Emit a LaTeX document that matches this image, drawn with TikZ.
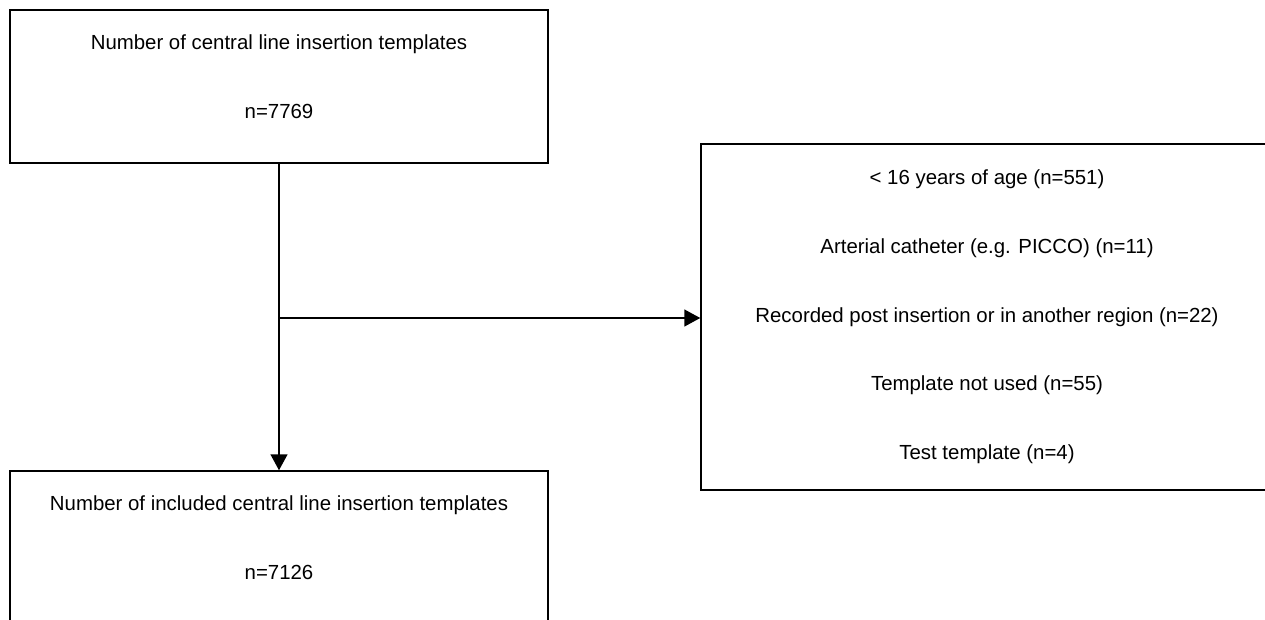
\documentclass[tikz,border=0pt]{standalone}
\usepackage{fontspec}
\setmainfont{Liberation Sans}
\usetikzlibrary{arrows.meta}
\tikzset{
  box/.style={draw, line width=1.5pt, inner sep=0pt},
  lbl/.style={anchor=base, font=\fontsize{20.4}{24}\selectfont},
  arr/.style={line width=1.5pt, -{Triangle[length=16pt,width=17pt]}}
}
\begin{document}
\begin{tikzpicture}[x=1pt,y=-1pt]
  \useasboundingbox (0,0) rectangle (1265,619);
  \clip (0,0) rectangle (1265,619);
  % boxes
  \node[box, minimum width=538pt, minimum height=153pt] (total) at (279,86.5) {};
  \node[box, minimum width=572pt, minimum height=346pt] (excl) at (987,317) {};
  \node[box, minimum width=538pt, minimum height=200pt] (incl) at (279,571) {};
  % texts
  \node[lbl] (totaltxt) at (279,49) {Number of central line insertion templates};
  \node[lbl] (totaln) at (279,118) {n=7769};
  \node[lbl] (exa) at (987,184) {< 16 years of age (n=551)};
  \node[lbl] (exb) at (987,253) {Arterial catheter (e.g. PICCO) (n=11)};
  \node[lbl] (exc) at (987,322) {Recorded post insertion or in another region (n=22)};
  \node[lbl] (exd) at (987,390) {Template not used (n=55)};
  \node[lbl] (exe) at (987,459) {Test template (n=4)};
  \node[lbl] (incltxt) at (279,510) {Number of included central line insertion templates};
  \node[lbl] (incln) at (279,579) {n=7126};
  % arrows
  \coordinate (split) at (279,318);
  \draw[arr] (total.south) -- (incl.north);
  \draw[arr] (split) -- (split -| excl.west);
\end{tikzpicture}
\end{document}
